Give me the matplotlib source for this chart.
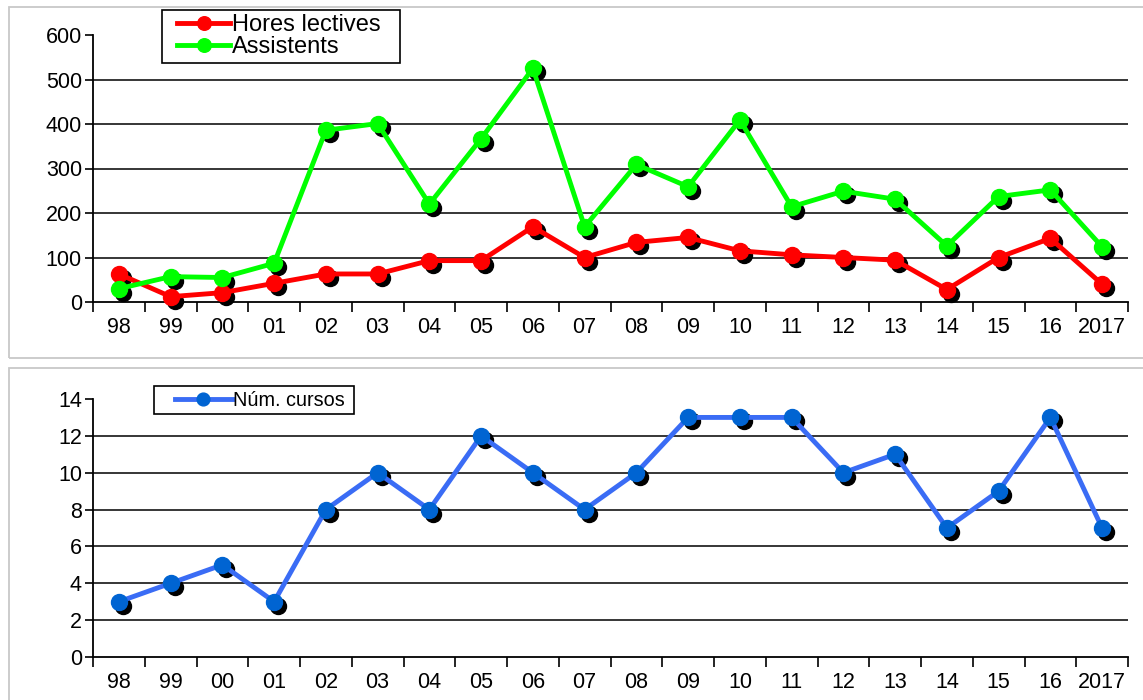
import matplotlib
matplotlib.use("Agg")
import matplotlib.pyplot as plt
from matplotlib.patches import Rectangle
from matplotlib.transforms import offset_copy

plt.rcParams['font.family'] = ['Liberation Sans', 'DejaVu Sans']

years = ["98", "99", "00", "01", "02", "03", "04", "05", "06", "07",
         "08", "09", "10", "11", "12", "13", "14", "15", "16", "2017"]
hores_lectives = [63, 12, 21, 42, 63, 63, 93, 93, 169, 100,
                  134, 145, 115, 106, 100, 94, 28, 100, 143, 40]
assistents = [30, 57, 55, 87, 386, 401, 220, 367, 525, 169,
              309, 259, 409, 214, 249, 231, 126, 237, 252, 124]
num_cursos = [3, 4, 5, 3, 8, 10, 8, 12, 10, 8,
              10, 13, 13, 13, 10, 11, 7, 9, 13, 7]

W, H = 1143, 700
fig = plt.figure(figsize=(W / 100, H / 100), dpi=100)
fig.patch.set_facecolor('white')


def frect(x0, y0, x1, y1, color, lw):
    fig.patches.append(Rectangle((x0 / W, 1 - y1 / H), (x1 - x0) / W, (y1 - y0) / H,
                                 transform=fig.transFigure, fill=False,
                                 edgecolor=color, lw=lw, zorder=10))


# panel borders
frect(9, 7, 1160, 358, '#c8c8c8', 1.3)
frect(9, 368, 1160, 720, '#c8c8c8', 1.3)


def make_axes(left, top, right, bottom):
    return fig.add_axes([left / W, 1 - bottom / H, (right - left) / W, (bottom - top) / H])


def style(ax, ymax, ystep):
    x = list(range(len(years)))
    ax.set_xlim(-0.5, len(years) - 0.5)
    ax.set_ylim(0, ymax)
    ax.set_yticks(range(0, ymax + 1, ystep))
    ax.set_xticks(x)
    ax.set_xticklabels(years)
    ax.set_xticks([i - 0.5 for i in range(len(years) + 1)], minor=True)
    ax.tick_params(axis='x', which='major', length=0, pad=11, labelsize=15.5)
    ax.tick_params(axis='x', which='minor', length=7, width=1.2, direction='out')
    ax.tick_params(axis='y', length=6, width=1.2, direction='out', labelsize=15.5, pad=2)
    for s in ['top', 'right']:
        ax.spines[s].set_visible(False)
    for s in ['left', 'bottom']:
        ax.spines[s].set_linewidth(1.3)
        ax.spines[s].set_color('black')
    for v in range(ystep, ymax, ystep):
        ax.axhline(v, color='black', lw=1.1, zorder=1)
    ax.set_facecolor('white')


def series(ax, vals, color, mcolor, label, ms=11.5):
    x = list(range(len(vals)))
    shadow = offset_copy(ax.transData, fig=fig, x=4, y=-4, units='dots')
    ax.plot(x, vals, linestyle='none', marker='o', ms=ms, color='black',
            transform=shadow, zorder=3, clip_on=False)
    line, = ax.plot(x, vals, color=color, lw=3.5, marker='o', ms=ms,
                    markerfacecolor=mcolor, markeredgecolor=mcolor, zorder=4,
                    label=label, clip_on=False)
    return line


# top chart
ax1 = make_axes(93, 35, 1128, 302)
style(ax1, 600, 100)
l1 = series(ax1, hores_lectives, '#ff0000', '#ff0000', 'Hores lectives')
l2 = series(ax1, assistents, '#00ff00', '#00ff00', 'Assistents')
frect(162, 10, 400, 63, 'black', 1.2)
fig.legend(handles=[l1, l2], loc='center left',
           bbox_to_anchor=(177 / W, 1 - 36 / H), fontsize=17,
           frameon=False, handlelength=2.25, handletextpad=0.08, borderpad=0,
           labelspacing=0.0, borderaxespad=0, markerscale=0.85)

# bottom chart
ax2 = make_axes(93, 399, 1128, 657)
style(ax2, 14, 2)
l3 = series(ax2, num_cursos, '#3a6cf5', '#0064d2', 'Núm. cursos')
frect(154, 386, 354, 414, 'black', 1.2)
fig.legend(handles=[l3], loc='center left',
           bbox_to_anchor=(175 / W, 1 - 400 / H), fontsize=14.3,
           frameon=False, handlelength=2.85, handletextpad=0.08, borderpad=0,
           borderaxespad=0, markerscale=0.8)

fig.savefig('out.png', dpi=100, facecolor='white')
